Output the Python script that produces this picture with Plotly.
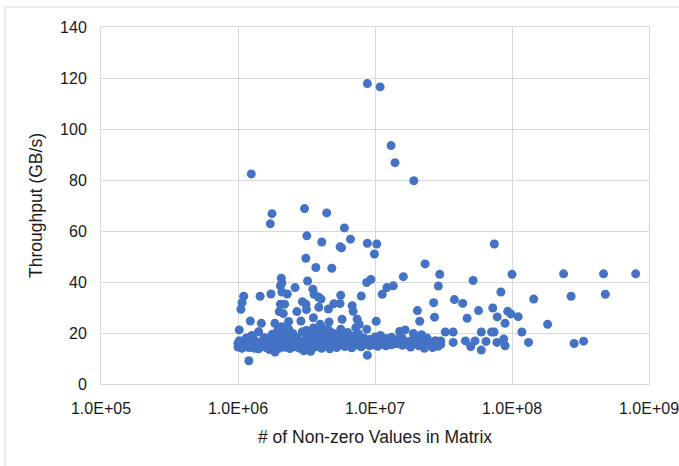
import plotly.graph_objects as go

# Dense band of matrices (nnz, throughput GB/s)
nnz_band = [
    1.00e6, 1.00e6, 1.023e6, 1.023e6, 1.072e6, 1.096e6, 1.148e6, 1.148e6, 1.202e6, 1.202e6,
    1.259e6, 1.259e6, 1.318e6, 1.318e6, 1.380e6, 1.413e6, 1.413e6, 1.479e6, 1.479e6, 1.549e6,
    1.549e6, 1.622e6, 1.622e6, 1.660e6, 1.698e6, 1.698e6, 1.778e6, 1.778e6, 1.820e6, 1.862e6,
    1.862e6, 1.950e6, 1.950e6, 1.995e6, 1.995e6, 2.042e6, 2.089e6, 2.089e6, 2.089e6, 2.188e6,
    2.188e6, 2.239e6, 2.239e6, 2.344e6, 2.344e6, 2.399e6, 2.399e6, 2.512e6, 2.512e6, 2.630e6,
    2.630e6, 2.692e6, 2.818e6, 2.818e6, 2.951e6, 2.951e6, 3.020e6, 3.162e6, 3.162e6, 3.162e6,
    3.311e6, 3.311e6, 3.388e6, 3.388e6, 3.548e6, 3.548e6, 3.631e6, 3.631e6, 3.802e6, 3.802e6,
    3.981e6, 3.981e6, 4.074e6, 4.074e6, 4.266e6, 4.266e6, 4.365e6, 4.365e6, 4.571e6, 4.571e6,
    4.677e6, 4.677e6, 4.898e6, 4.898e6, 5.012e6, 5.248e6, 5.248e6, 5.370e6, 5.370e6, 5.623e6,
    5.623e6, 5.754e6, 6.026e6, 6.026e6, 6.310e6, 6.310e6, 6.457e6, 6.761e6, 6.761e6, 7.079e6,
    7.079e6, 7.244e6, 7.586e6, 7.586e6, 7.943e6, 7.943e6, 8.318e6, 8.318e6, 8.710e6, 8.710e6,
    9.120e6, 9.120e6, 9.550e6, 1.000e7, 1.000e7, 1.047e7, 1.047e7, 1.096e7, 1.096e7, 1.148e7,
    1.202e7, 1.202e7, 1.259e7, 1.318e7, 1.318e7, 1.380e7, 1.445e7, 1.445e7, 1.514e7, 1.514e7,
    1.585e7, 1.585e7, 1.660e7, 1.660e7, 1.738e7, 1.820e7, 1.820e7, 1.905e7, 1.905e7, 1.995e7,
    1.995e7, 2.089e7, 2.188e7, 2.188e7, 2.291e7, 2.291e7, 2.399e7, 2.399e7, 2.512e7, 2.630e7,
    2.630e7, 2.754e7, 2.754e7, 2.884e7, 2.884e7, 3.020e7, 3.020e7,
]
tput_band = [
    14.5, 16.0, 15.2, 17.0, 14.0, 16.5, 15.0, 18.0, 14.3, 16.2,
    15.5, 19.0, 14.0, 17.3, 15.8, 13.8, 20.5, 16.4, 14.6, 15.1,
    18.2, 14.2, 16.8, 17.9, 15.4, 13.5, 16.1, 19.5, 14.5, 12.5,
    17.2, 15.7, 21.0, 14.0, 18.6, 16.6, 15.0, 20.0, 22.5, 14.4,
    17.5, 16.0, 19.0, 15.3, 21.5, 13.9, 17.8, 15.8, 19.8, 14.6,
    16.9, 18.3, 15.2, 14.0, 16.7, 20.5, 13.0, 15.5, 18.5, 21.0,
    14.2, 17.1, 12.8, 19.6, 15.9, 22.0, 14.5, 17.9, 16.4, 20.8,
    15.0, 18.7, 14.0, 22.3, 16.2, 19.9, 14.8, 17.4, 15.6, 21.2,
    13.8, 18.2, 16.9, 20.0, 15.1, 14.3, 17.6, 16.0, 19.4, 15.4,
    21.5, 17.2, 14.7, 18.8, 16.1, 20.2, 15.0, 17.0, 14.2, 15.7,
    18.9, 16.5, 15.2, 19.6, 16.8, 14.6, 15.5, 18.0, 16.3, 21.5,
    15.0, 17.5, 16.6, 15.3, 18.4, 16.9, 14.8, 15.6, 19.0, 16.2,
    15.0, 17.8, 16.5, 15.4, 18.3, 16.8, 15.8, 17.5, 16.4, 20.6,
    15.2, 17.9, 16.7, 21.2, 15.5, 16.9, 14.5, 15.8, 19.8, 16.3,
    18.5, 15.0, 16.6, 19.3, 15.2, 14.0, 16.8, 18.0, 15.5, 16.2,
    14.3, 15.0, 17.0, 16.5, 14.8, 15.6, 16.9,
]

# Scattered matrices above / beside the band
nnz_spread = [
    8.79e6, 1.09e7, 1.25e6, 1.31e7, 1.40e7, 1.92e7, 3.06e6, 4.44e6, 1.77e6, 1.72e6,
    5.98e6, 3.18e6, 6.62e6, 4.09e6, 5.56e6, 5.70e6, 8.79e6, 1.03e7, 9.90e6, 7.43e7,
    3.13e6, 3.70e6, 4.84e6, 2.32e7, 5.20e7, 2.97e7, 1.00e8, 2.38e8, 4.66e8, 8.00e8,
    1.61e7, 1.36e7, 1.22e7, 1.13e7, 9.33e6, 8.70e6, 2.90e7, 8.30e7, 1.44e8, 2.70e8,
    4.80e8, 3.80e7, 4.37e7, 2.68e7, 2.04e7, 5.70e7, 7.24e7, 9.30e7, 7.80e7, 1.11e8,
    9.80e7, 2.72e7, 4.70e7, 2.12e7, 8.90e7, 1.82e8, 1.18e8, 7.40e7, 7.10e7, 5.97e7,
    3.26e7, 3.72e7, 1.32e8, 2.84e8, 3.33e8, 5.97e7, 5.00e7, 3.72e7, 6.46e7, 8.70e7,
    8.90e7, 7.76e7, 4.57e7, 5.37e7, 2.88e7, 8.79e6, 1.20e6, 1.10e6, 1.07e6, 1.05e6,
    1.02e6, 1.23e6, 1.45e6, 1.74e6, 1.48e6, 2.07e6, 2.09e6, 2.04e6, 2.29e6, 2.09e6,
    2.61e6, 3.22e6, 2.95e6, 3.13e6, 3.16e6, 2.69e6, 2.04e6, 2.19e6, 2.00e6, 2.14e6,
    3.52e6, 3.59e6, 3.86e6, 4.04e6, 3.89e6, 4.57e6, 5.01e6, 5.56e6, 5.62e6, 6.81e6,
    6.92e6, 5.75e6, 7.41e6, 7.94e6, 1.02e7, 3.55e6, 2.88e6, 2.34e6, 1.86e6, 4.62e6,
    3.98e6, 7.24e6, 7.67e6,
]
tput_spread = [
    117.8, 116.5, 82.4, 93.5, 86.8, 79.7, 68.8, 67.1, 66.8, 62.8,
    61.2, 58.1, 56.8, 55.7, 53.8, 53.4, 55.2, 54.9, 51.0, 54.9,
    49.3, 45.7, 45.4, 47.1, 40.6, 43.0, 43.0, 43.2, 43.2, 43.2,
    42.1, 38.5, 37.8, 35.2, 41.0, 39.8, 38.4, 36.1, 33.3, 34.4,
    35.2, 33.1, 31.6, 31.9, 28.8, 28.8, 29.8, 28.5, 26.3, 26.4,
    27.5, 26.2, 25.8, 24.6, 23.8, 23.4, 20.4, 20.4, 20.4, 20.4,
    20.4, 20.4, 16.3, 15.9, 16.8, 13.3, 14.7, 16.3, 16.7, 17.6,
    15.0, 16.3, 16.9, 16.9, 16.3, 11.3, 9.1, 34.4, 31.9, 29.3,
    21.2, 24.7, 34.4, 35.3, 23.8, 41.5, 39.6, 38.5, 35.3, 36.1,
    37.8, 40.4, 32.3, 31.3, 29.2, 28.4, 31.3, 31.3, 28.4, 27.6,
    37.2, 35.2, 34.1, 33.3, 30.1, 29.4, 31.5, 31.5, 34.8, 30.7,
    28.5, 25.4, 25.4, 34.5, 24.6, 26.0, 24.7, 24.5, 23.8, 24.3,
    23.4, 22.1, 23.4,
]

x_tickvals = [1e5, 1e6, 1e7, 1e8, 1e9]
x_ticktext = ["1.0E+05", "1.0E+06", "1.0E+07", "1.0E+08", "1.0E+09"]
y_tickvals = [0, 20, 40, 60, 80, 100, 120, 140]

nnz = nnz_band + nnz_spread
tput = tput_band + tput_spread

FONT = "Liberation Sans, Arial, sans-serif"
GRID = "#D9D9D9"
TXT = "#1a1a1a"

fig = go.Figure()
fig.add_trace(go.Scatter(
    x=nnz, y=tput, mode="markers",
    marker=dict(size=9, color="#4472C4", line=dict(width=0)),
    showlegend=False, hoverinfo="x+y",
))

fig.update_layout(
    width=679, height=466,
    margin=dict(l=101, r=30, t=27, b=82),
    paper_bgcolor="white", plot_bgcolor="white",
    font=dict(family=FONT, size=16, color=TXT),
    xaxis=dict(
        type="log", range=[5, 9], automargin=False,
        tickvals=x_tickvals, ticktext=x_ticktext, ticklabeloverflow="allow",
        showgrid=True, gridcolor=GRID, gridwidth=1,
        showline=True, linecolor=GRID, linewidth=1, mirror=True,
        zeroline=False, ticks="", ticklen=0, ticklabelstandoff=10,
        tickfont=dict(size=16, color=TXT),
        title=dict(text="# of Non-zero Values in Matrix", font=dict(size=17.5, color=TXT), standoff=14),
    ),
    yaxis=dict(
        range=[0, 140], tickvals=y_tickvals, automargin=False,
        showgrid=True, gridcolor=GRID, gridwidth=1,
        showline=True, linecolor=GRID, linewidth=1, mirror=True,
        zeroline=False, ticks="", ticklabelstandoff=10,
        tickfont=dict(size=16, color=TXT),
        title=dict(text="Throughput (GB/s)", font=dict(size=17.5, color=TXT), standoff=12),
    ),
    shapes=[
        dict(type="line", xref="paper", yref="paper", x0=-0.175, x1=-0.175, y0=-0.24, y1=1.056,
             line=dict(color=GRID, width=1)),
        dict(type="line", xref="paper", yref="paper", x0=-0.175, x1=1.06, y0=1.056, y1=1.056,
             line=dict(color=GRID, width=1)),
    ],
)

fig.write_html("out.html")
